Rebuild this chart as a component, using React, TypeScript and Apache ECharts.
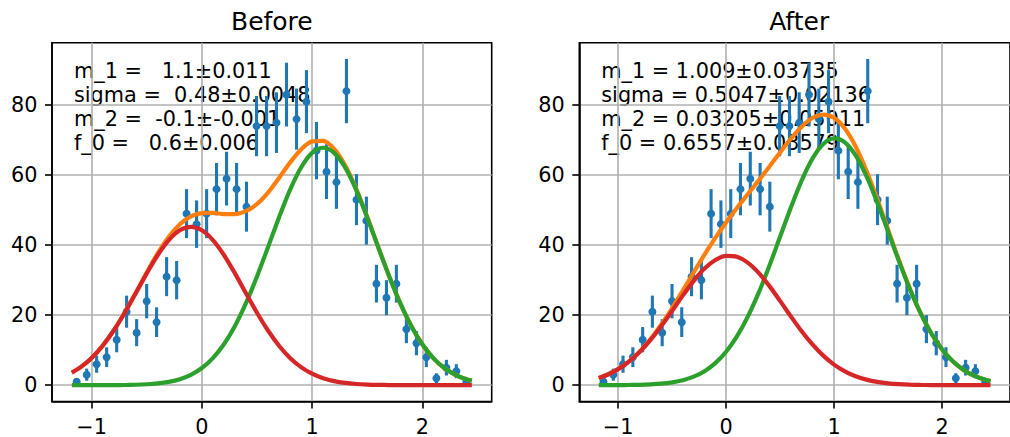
import React, { useEffect, useRef } from "react";
import * as echarts from "echarts";

// ---- data ----
const binCenters = [
  -1.136, -1.045, -0.955, -0.864, -0.773, -0.683, -0.592, -0.501, -0.411, -0.32,
  -0.229, -0.139, -0.048, 0.043, 0.133, 0.224, 0.315, 0.405, 0.496, 0.587,
  0.677, 0.768, 0.859, 0.949, 1.04, 1.131, 1.221, 1.312, 1.403, 1.493,
  1.584, 1.675, 1.765, 1.856, 1.947, 2.037, 2.128, 2.219, 2.309, 2.4,
];
const counts = [
  1, 3, 6, 8, 13, 21, 15, 24, 18, 31,
  30, 49, 46, 49, 56, 59, 56, 51, 74, 74,
  75, 83, 76, 81, 67, 61, 58, 84, 53, 47,
  29, 25, 29, 16, 12, 8, 2, 5, 4, 1,
];
const countErrors = [
  1.0, 1.73, 2.45, 2.83, 3.61, 4.58, 3.87, 4.9, 4.24, 5.57,
  5.48, 7.0, 6.78, 7.0, 7.48, 7.68, 7.48, 7.14, 8.6, 8.6,
  8.66, 9.11, 8.72, 9.0, 8.19, 7.81, 7.62, 9.17, 7.28, 6.86,
  5.39, 5.0, 5.39, 4.0, 3.46, 2.83, 1.41, 2.24, 2.0, 1.0,
];

const curveX = [
  -1.18, -1.1, -1.0, -0.9, -0.8, -0.7, -0.6, -0.5, -0.4, -0.3,
  -0.2, -0.1, 0.0, 0.1, 0.2, 0.3, 0.4, 0.5, 0.6, 0.7,
  0.8, 0.9, 1.0, 1.1, 1.2, 1.3, 1.4, 1.5, 1.6, 1.7,
  1.8, 1.9, 2.0, 2.1, 2.2, 2.3, 2.4, 2.45,
];
const beforeTotal = [
  3.6, 5.16, 7.8, 11.29, 15.64, 20.76, 26.41, 32.21, 37.7, 42.41,
  45.97, 48.19, 49.15, 49.2, 48.88, 48.86, 49.7, 51.75, 55.03, 59.21,
  63.58, 67.34, 69.63, 69.81, 67.51, 62.82, 56.13, 48.11, 39.51, 31.09,
  23.44, 16.92, 11.69, 7.75, 4.91, 2.98, 1.73, 1.3,
];
const beforeGreen = [
  0.0, 0.0, 0.0, 0.01, 0.03, 0.06, 0.13, 0.26, 0.51, 0.96,
  1.73, 2.98, 4.91, 7.75, 11.69, 16.91, 23.42, 31.05, 39.42, 47.93,
  55.79, 62.18, 66.36, 67.82, 66.36, 62.18, 55.79, 47.93, 39.42, 31.05,
  23.42, 16.91, 11.69, 7.75, 4.91, 2.98, 1.73, 1.3,
];
const beforeRed = [
  3.6, 5.16, 7.79, 11.28, 15.61, 20.7, 26.28, 31.95, 37.19, 41.45,
  44.24, 45.21, 44.24, 41.45, 37.19, 31.95, 26.28, 20.7, 15.61, 11.28,
  7.79, 5.16, 3.27, 1.99, 1.15, 0.64, 0.34, 0.18, 0.09, 0.04,
  0.02, 0.01, 0.0, 0.0, 0.0, 0.0, 0.0, 0.0,
];
const afterTotal = [
  2.08, 3.0, 4.6, 6.78, 9.63, 13.16, 17.34, 22.04, 27.09, 32.25,
  37.3, 42.07, 46.5, 50.6, 54.53, 58.42, 62.41, 66.47, 70.41, 73.85,
  76.33, 77.31, 76.36, 73.3, 68.16, 61.28, 53.16, 44.45, 35.81, 27.77,
  20.72, 14.88, 10.27, 6.82, 4.36, 2.68, 1.58, 1.2,
];
const afterGreen = [
  0.01, 0.01, 0.03, 0.06, 0.11, 0.23, 0.44, 0.81, 1.43, 2.44,
  4.0, 6.3, 9.56, 13.92, 19.51, 26.28, 34.04, 42.39, 50.76, 58.44,
  64.7, 68.87, 70.48, 69.35, 65.62, 59.7, 52.22, 43.91, 35.51, 27.61,
  20.64, 14.84, 10.25, 6.82, 4.35, 2.68, 1.58, 1.2,
];
const afterRed = [
  2.07, 2.99, 4.58, 6.73, 9.51, 12.93, 16.9, 21.23, 25.66, 29.81,
  33.3, 35.77, 36.94, 36.68, 35.02, 32.14, 28.37, 24.08, 19.65, 15.41,
  11.63, 8.44, 5.88, 3.95, 2.54, 1.58, 0.94, 0.54, 0.3, 0.16,
  0.08, 0.04, 0.02, 0.01, 0.0, 0.0, 0.0, 0.0,
];

const xTicks = [-1, 0, 1, 2];
const yTicks = [0, 20, 40, 60, 80];
const panelTitles = ["Before", "After"];
const beforeText = [
  "m_1 =   1.1±0.011",
  "sigma =  0.48±0.0048",
  "m_2 =  -0.1±-0.001",
  "f_0 =   0.6±0.006",
];
const afterText = [
  "m_1 = 1.009±0.03735",
  "sigma = 0.5047±0.02136",
  "m_2 = 0.03205±0.05011",
  "f_0 = 0.6557±0.03579",
];

// ---- layout / style ----
const X_MIN = -1.36;
const X_MAX = 2.63;
const Y_MIN = -4.66;
const Y_MAX = 97.83;
const GRID_TOP = 42.7;
const GRID_H = 360;
const GRID_W = 439.7;
const GRID_LEFTS = [52, 579.3];
const FONT = "DejaVu Sans";
const BLUE = "#1f77b4";
const ORANGE = "#ff7f0e";
const GREEN = "#2ca02c";
const RED = "#d62728";
const LW = 1.6;

const fmt = (v: number) => (v < 0 ? "\u2212" + Math.abs(v) : String(v));
const nb = (s: string) => s.replace(/ /g, "\u00a0");

export default function App() {
  const ref = useRef<HTMLDivElement>(null);

  useEffect(() => {
    if (!ref.current) return;
    const chart = echarts.init(ref.current, null, { renderer: "svg" });

    const pts = binCenters.map((x, i) => [x, counts[i], countErrors[i]]);
    const line = (ys: number[]) => curveX.map((x, i) => [x, ys[i]]);

    const xAxis = [0, 1].map((g) => ({
      type: "value",
      gridIndex: g,
      min: X_MIN,
      max: X_MAX,
      axisLine: { show: true, onZero: false, lineStyle: { color: "#000", width: LW } },
      axisTick: { show: true, inside: false, length: 7, customValues: xTicks, lineStyle: { color: "#000", width: LW } },
      axisLabel: { customValues: xTicks, formatter: fmt, color: "#000", fontSize: 20.8, fontFamily: FONT, margin: 14.5 },
      splitLine: { show: true, lineStyle: { color: "#b0b0b0", width: LW } },
    }));
    const yAxis = [0, 1].map((g) => ({
      type: "value",
      gridIndex: g,
      min: Y_MIN,
      max: Y_MAX,
      axisLine: { show: true, onZero: false, lineStyle: { color: "#000", width: LW } },
      axisTick: { show: true, inside: false, length: 7, customValues: yTicks, lineStyle: { color: "#000", width: LW } },
      axisLabel: { customValues: yTicks, color: "#000", fontSize: 20.8, fontFamily: FONT, margin: 14.5 },
      splitLine: { show: true, lineStyle: { color: "#b0b0b0", width: LW } },
    }));

    const series: any[] = [];
    const panels = [
      { total: beforeTotal, green: beforeGreen, red: beforeRed },
      { total: afterTotal, green: afterGreen, red: afterRed },
    ];
    panels.forEach((p, g) => {
      series.push({
        type: "custom",
        xAxisIndex: g,
        yAxisIndex: g,
        data: pts,
        encode: { x: 0, y: 1 },
        renderItem: (params: any, api: any) => {
          const x = api.value(0);
          const y = api.value(1);
          const e = api.value(2);
          const lo = api.coord([x, y - e]);
          const hi = api.coord([x, y + e]);
          const c = api.coord([x, y]);
          return {
            type: "group",
            children: [
              { type: "line", shape: { x1: lo[0], y1: lo[1], x2: hi[0], y2: hi[1] }, style: { stroke: BLUE, lineWidth: 3.1 } },
              { type: "circle", shape: { cx: c[0], cy: c[1], r: 4 }, style: { fill: BLUE } },
            ],
          };
        },
      });
      [
        [p.total, ORANGE],
        [p.green, GREEN],
        [p.red, RED],
      ].forEach(([ys, color]) => {
        series.push({
          type: "line",
          xAxisIndex: g,
          yAxisIndex: g,
          data: line(ys as number[]),
          smooth: 0.3,
          showSymbol: false,
          lineStyle: { color: color as string, width: 4.2 },
        });
      });
    });

    const graphic: any[] = [];
    panelTitles.forEach((t, g) => {
      graphic.push({
        type: "text",
        x: GRID_LEFTS[g] + GRID_W / 2,
        y: 21.3,
        style: { text: t, fill: "#000", fontSize: 25, fontFamily: FONT, align: "center", verticalAlign: "middle" },
      });
    });
    [beforeText, afterText].forEach((lines, g) => {
      lines.forEach((t, i) => {
        graphic.push({
          type: "text",
          x: GRID_LEFTS[g] + GRID_W * 0.05,
          y: 70.5 + i * 24.3,
          style: { text: nb(t), fill: "#000", fontSize: 20.8, fontFamily: FONT, align: "left", verticalAlign: "middle" },
        });
      });
    });

    chart.setOption({
      animation: false,
      textStyle: { fontFamily: FONT },
      grid: GRID_LEFTS.map((l) => ({
        left: l,
        top: GRID_TOP,
        width: GRID_W,
        height: GRID_H,
        show: true,
        borderColor: "#000",
        borderWidth: LW,
        backgroundColor: "transparent",
      })),
      xAxis,
      yAxis,
      series,
      graphic,
    });

    return () => chart.dispose();
  }, []);

  return (
    <div
      ref={ref}
      style={{ position: "absolute", left: 0, top: 0, width: 1010, height: 437, background: "#fff" }}
    />
  );
}
